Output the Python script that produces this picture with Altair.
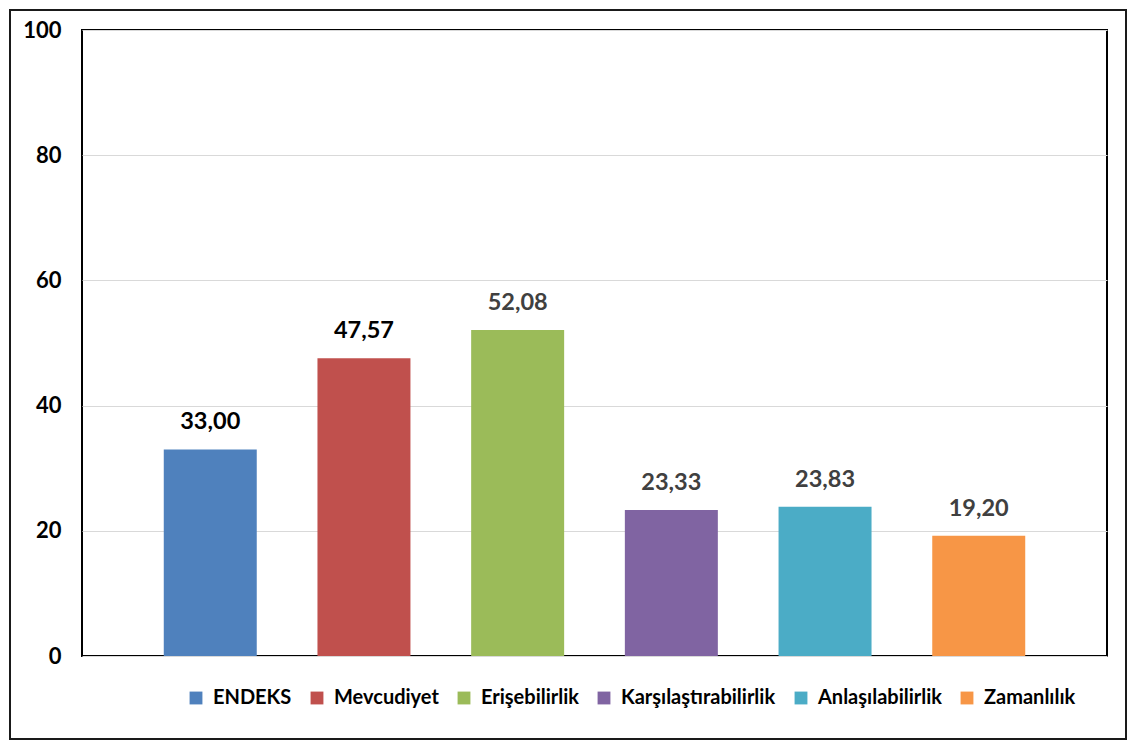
import altair as alt
import pandas as pd

categories = ["ENDEKS", "Mevcudiyet", "Erişebilirlik", "Karşılaştırabilirlik", "Anlaşılabilirlik", "Zamanlılık"]
values = [33.00, 47.57, 52.08, 23.33, 23.83, 19.20]
colors = ["#4F81BD", "#C0504D", "#9BBB59", "#8064A2", "#4BACC6", "#F79646"]
label_colors = ["#000000", "#000000", "#404040", "#404040", "#404040", "#404040"]
y_ticks = [0, 20, 40, 60, 80, 100]

df = pd.DataFrame({
    "cat": categories,
    "val": values,
    "lab": [f"{v:.2f}".replace(".", ",") for v in values],
    "tc": label_colors,
})

FONT = "Lato"

x_enc = alt.X("cat:N", sort=categories, axis=None,
              scale=alt.Scale(paddingInner=0.395, paddingOuter=0.532))
y_enc = alt.Y("val:Q", scale=alt.Scale(domain=[0, 100], nice=False),
              axis=alt.Axis(values=y_ticks, title=None, grid=True, gridColor="#d9d9d9",
                            gridWidth=1, domain=False, ticks=False, labelPadding=21,
                            labelFont=FONT, labelFontWeight="bold", labelFontSize=22,
                            labelColor="#000000"))

bars = alt.Chart(df).mark_bar().encode(
    x=x_enc,
    y=y_enc,
    color=alt.Color("cat:N", sort=categories,
                    scale=alt.Scale(domain=categories, range=colors),
                    legend=alt.Legend(title=None, orient="none", direction="horizontal",
                                      columns=6, legendX=104, legendY=658,
                                      symbolType="square", symbolSize=165,
                                      symbolStrokeWidth=0, symbolOpacity=1,
                                      labelFont=FONT, labelFontWeight="bold",
                                      labelFontSize=20, labelColor="#000000",
                                      labelOffset=7, columnPadding=15, labelLimit=400)),
)

text = alt.Chart(df).mark_text(baseline="alphabetic", dy=-20, font=FONT,
                               fontWeight="bold", fontSize=23.5).encode(
    x=alt.X("cat:N", sort=categories),
    y=alt.Y("val:Q"),
    text="lab:N",
    color=alt.Color("tc:N", scale=None),
)

frame = alt.Chart(pd.DataFrame({"a": [0]})).mark_rect(
    fill=None, stroke="#1a1a1a", strokeWidth=2
).encode(
    x=alt.value(-72), x2=alt.value(1044), y=alt.value(-20), y2=alt.value(709)
)

chart = alt.layer(frame, bars, text).properties(
    width=1025, height=626,
    padding={"left": 74, "top": 22, "right": 20, "bottom": 84},
    autosize=alt.AutoSizeParams(type="none"),
).configure_view(stroke="#000000", strokeWidth=2)

chart.save("out.html", embed_options={"renderer": "svg", "actions": False})
